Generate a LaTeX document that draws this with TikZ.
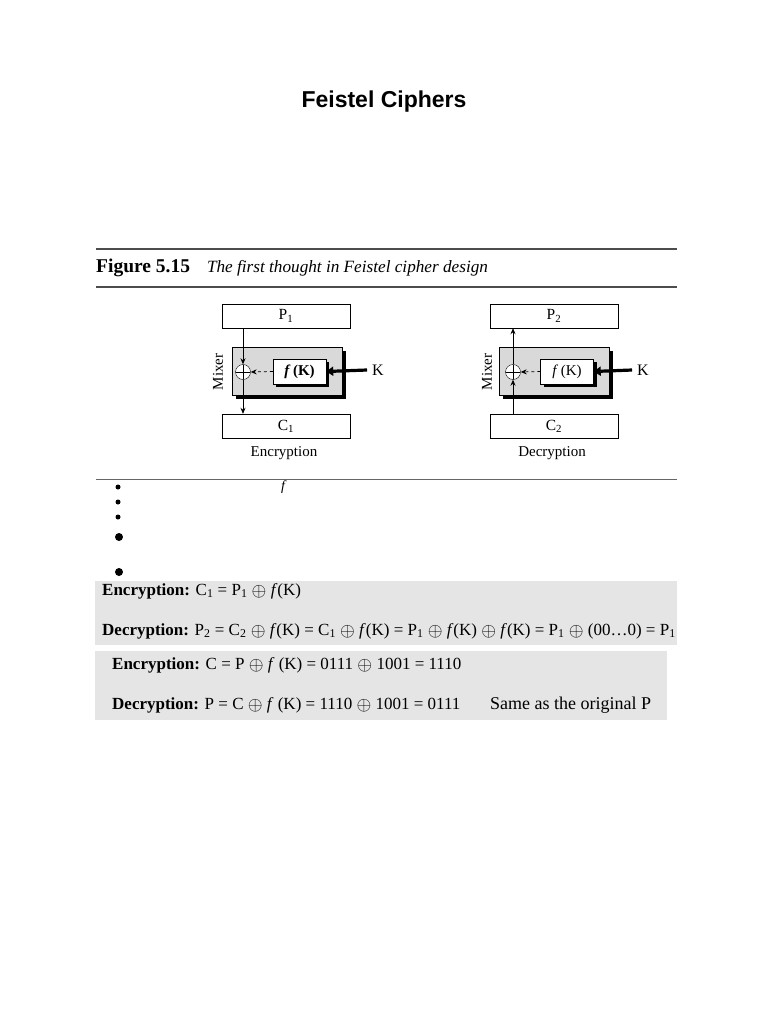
\documentclass[tikz,border=0pt]{standalone}
\usepackage{fontspec}
\setmainfont{Liberation Serif}
\newfontfamily\titlefont{Liberation Sans}
\usetikzlibrary{arrows.meta,shadows}
\newcommand{\xo}{\raisebox{-0.05em}{\scalebox{1.1}{\ensuremath{\oplus}}}}
\begin{document}
\begin{tikzpicture}[x=1pt,y=-1pt,
  blockbox/.style={draw,fill=white,minimum width=128pt,minimum height=24pt,inner sep=0pt,font=\fontsize{15.5}{17}\selectfont},
  mixerbox/.style={draw,fill=black!15,minimum width=110pt,minimum height=48pt,inner sep=0pt,drop shadow={shadow xshift=3.5pt,shadow yshift=-3.5pt,fill=black,opacity=1}},
  fbox/.style={draw,fill=white,minimum width=53pt,minimum height=25pt,inner sep=0pt,font=\fontsize{15}{17}\selectfont,drop shadow={shadow xshift=3pt,shadow yshift=-3pt,fill=black,opacity=1}},
  xorc/.style={draw,circle,fill=white,minimum size=15pt,inner sep=0pt,path picture={\draw (path picture bounding box.north) -- (path picture bounding box.south) (path picture bounding box.west) -- (path picture bounding box.east);}},
  lbl/.style={font=\fontsize{15}{17}\selectfont,inner sep=0pt},
  klbl/.style={font=\fontsize{16}{18}\selectfont,inner sep=0pt},
  arr/.style={-{Stealth[length=6pt,width=5pt]},line width=0.7pt},
  darr/.style={arr,dashed},
  karr/.style={-{Triangle[length=7pt,width=9pt]},line width=3.2pt},
  rule/.style={draw=black!70,line width=1.8pt},
  eqtext/.style={anchor=west,inner sep=0pt,font=\fontsize{17}{19}\selectfont},
  eqbg/.style={fill=black!10,draw=none},
  bul/.style={circle,fill=black,inner sep=0pt}
]
\useasboundingbox (0,0) rectangle (768,1024);
\fill[white] (0,0) rectangle (768,1024);

\node[font=\titlefont\bfseries\fontsize{23}{26}\selectfont] (title) at (384,102) {Feistel Ciphers};

\draw[rule] (96,249) -- (677,249);
\node[anchor=west,inner sep=0pt] (cap) at (96,268) {\fontsize{19.5}{21}\selectfont\textbf{Figure 5.15}\hspace{17pt}\fontsize{17.2}{19}\selectfont\textit{The first thought in Feistel cipher design}};
\draw[rule] (96,287) -- (677,287);

% Encryption
\node[blockbox] (P1) at (286,316) {P\textsubscript{1}};
\node[mixerbox] (mixE) at (287,371) {};
\node[fbox] (fE) at (299.5,371.5) {\textbf{\textit{f}\,(K)}};
\node[xorc] (xE) at (243,372) {};
\node[blockbox] (C1) at (286,426) {C\textsubscript{1}};
\node[klbl] (KE) at (378,370) {K};
\node[lbl,rotate=90] (mxE) at (218,372) {Mixer};
\node[lbl] (encl) at (284,453) {Encryption};
\draw[arr] (P1.south -| xE) -- (xE.north);
\draw[arr] (xE.south) -- (C1.north -| xE);
\draw[darr] (fE.west) -- (xE.east);
\draw[karr] (KE.west) ++(-5,0) coordinate (kE0) (kE0) -- (fE.east);

% Decryption
\node[blockbox] (P2) at (554,316) {P\textsubscript{2}};
\node[mixerbox] (mixD) at (554,371) {};
\node[fbox] (fD) at (567,371.5) {\textit{f}\,(K)};
\node[xorc] (xD) at (513,372) {};
\node[blockbox] (C2) at (554,426) {C\textsubscript{2}};
\node[klbl] (KD) at (643,370) {K};
\node[lbl,rotate=90] (mxD) at (487,372) {Mixer};
\node[lbl] (decl) at (552,453) {Decryption};
\draw[arr] (C2.north -| xD) -- (xD.south);
\draw[arr] (xD.north) -- (P2.south -| xD);
\draw[darr] (fD.west) -- (xD.east);
\draw[karr] (KD.west) ++(-5,0) coordinate (kD0) (kD0) -- (fD.east);

\draw[draw=black!60,line width=0.8pt] (96,479) -- (677,479);

% bullets
\node[bul,minimum size=5pt] (b1) at (118,487) {};
\node[bul,minimum size=5pt] (b2) at (118,502) {};
\node[bul,minimum size=5pt] (b3) at (118,517) {};
\node[bul,minimum size=8pt] (b4) at (119,537) {};
\node[bul,minimum size=8pt] (b5) at (119,572) {};
\node[font=\fontsize{14}{16}\selectfont\itshape,inner sep=0pt] (fb) at (283,487) {f};

% equation box 1
\fill[eqbg] (95,581) rectangle (677,645);
\node[eqtext] (e1) at (102,591) {\textbf{Encryption:} C\textsubscript{1} = P\textsubscript{1} \xo{} \textit{f}(K)};
\node[eqtext] (d1) at (102,631) {\textbf{Decryption:} P\textsubscript{2} = C\textsubscript{2} \xo{} \textit{f}(K) = C\textsubscript{1} \xo{} \textit{f}(K) = P\textsubscript{1} \xo{} \textit{f}(K) \xo{} \textit{f}(K) = P\textsubscript{1} \xo{} (00…0) = P\textsubscript{1}};

% equation box 2
\fill[eqbg] (95,651) rectangle (667,720);
\node[eqtext] (e2) at (112,665) {\textbf{Encryption:} C = P \xo{} \textit{f} (K) = 0111 \xo{} 1001 = 1110};
\node[eqtext] (d2) at (112,705) {\textbf{Decryption:} P = C \xo{} \textit{f} (K) = 1110 \xo{} 1001 = 0111};
\node[eqtext,font=\fontsize{18}{20}\selectfont] (same) at (490,705) {Same as the original P};
\end{tikzpicture}
\end{document}
